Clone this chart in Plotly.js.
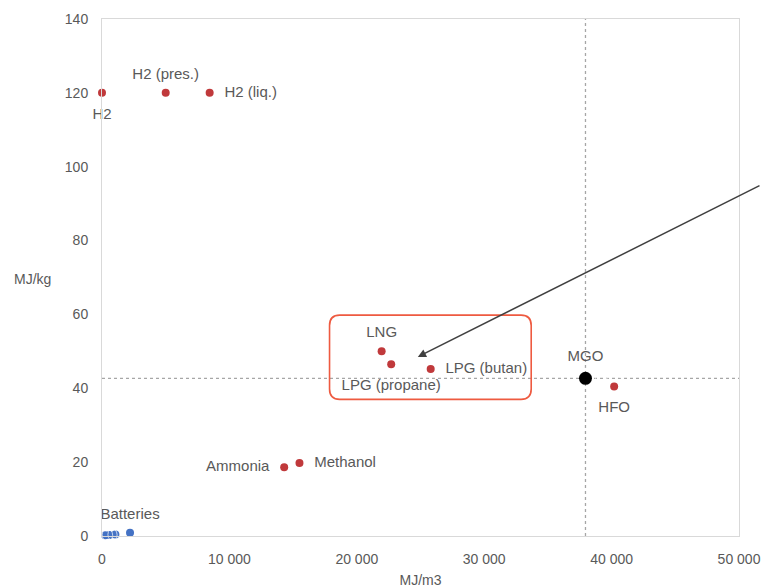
<!DOCTYPE html>
<html>
<head>
<meta charset="utf-8">
<script src="https://cdn.plot.ly/plotly-3.0.1.min.js"></script>
<style>html,body{margin:0;padding:0;background:#fff;}#chart{width:761px;height:588px;}</style>
</head>
<body>
<div id="chart"></div>
<script>
// Fuels (red)
const fuelNames = ["H2", "H2 (pres.)", "H2 (liq.)", "LNG", "LPG (propane)", "LPG (butan)", "HFO", "Ammonia", "Methanol"];
const fuelMJm3  = [0, 5000, 8450, 21950, 22700, 25800, 40200, 14300, 15500];
const fuelMJkg  = [120, 120, 120, 50, 46.5, 45.2, 40.5, 18.6, 19.8];
const fuelLabelPos = ["bottom center", "top center", "middle right", "top center", "bottom center", "middle right", "bottom center", "middle left", "middle right"];

// Batteries (blue)
const batteryNames = ["", "", "", "Batteries"];
const batteryMJm3 = [250, 600, 1050, 2200];
const batteryMJkg = [0.2, 0.3, 0.4, 0.9];

// Reference fuel (MGO)
const mgoName = ["MGO"];
const mgoMJm3 = [37950];
const mgoMJkg = [42.7];

// Axis ranges / ticks
const xRange = [0, 50000];
const yRange = [0, 140];
const xTicks = [0, 10000, 20000, 30000, 40000, 50000];
const yTicks = [0, 20, 40, 60, 80, 100, 120, 140];

const FONT = "Liberation Sans, Arial, sans-serif";
const TXT = "#595959";
const LBL = 15;

// invisible spacer marker sizes control label distance from points
function spacerFor(pos) { return pos.indexOf("top") === 0 ? 15 : 22; }

function labelTrace(xs, ys, names, pos) {
  const posArr = Array.isArray(pos) ? pos : xs.map(() => pos);
  return {
    x: xs, y: ys, text: names, mode: "markers+text", textposition: posArr, cliponaxis: false,
    marker: {color: "rgba(0,0,0,0)", size: posArr.map(spacerFor)}, hoverinfo: "skip",
    textfont: {family: FONT, size: LBL, color: TXT}, showlegend: false
  };
}

const mgoLabel = labelTrace(mgoMJm3, mgoMJkg, mgoName, "top center");
mgoLabel.marker.size = [20];

const traces = [
  { // dotted reference lines through MGO
    x: [mgoMJm3[0], mgoMJm3[0]], y: yRange, mode: "lines", hoverinfo: "skip",
    line: {color: "#a6a6a6", width: 1.3, dash: "dot"}, showlegend: false
  },
  {
    x: xRange, y: [mgoMJkg[0], mgoMJkg[0]], mode: "lines", hoverinfo: "skip",
    line: {color: "#a6a6a6", width: 1.3, dash: "dot"}, showlegend: false
  },
  {
    x: fuelMJm3, y: fuelMJkg, mode: "markers", cliponaxis: false,
    marker: {color: "#C0393B", size: 8}, showlegend: false
  },
  {
    x: batteryMJm3, y: batteryMJkg, mode: "markers", cliponaxis: false,
    marker: {color: "#4472C4", size: 8}, showlegend: false
  },
  {
    x: mgoMJm3, y: mgoMJkg, mode: "markers", cliponaxis: false,
    marker: {color: "#000000", size: 13}, showlegend: false
  },
  labelTrace(fuelMJm3, fuelMJkg, fuelNames, fuelLabelPos),
  labelTrace(batteryMJm3, batteryMJkg, batteryNames, "top center"),
  mgoLabel
];

// rounded rectangle around LNG / LPG group (data coords)
const rx0 = 17860, rx1 = 33690, ry0 = 37.0, ry1 = 59.8, cx = 800, cy = 2.8;
const rectPath = `M ${rx0+cx},${ry1} L ${rx1-cx},${ry1} Q ${rx1},${ry1} ${rx1},${ry1-cy} ` +
  `L ${rx1},${ry0+cy} Q ${rx1},${ry0} ${rx1-cx},${ry0} L ${rx0+cx},${ry0} ` +
  `Q ${rx0},${ry0} ${rx0},${ry0+cy} L ${rx0},${ry1-cy} Q ${rx0},${ry1} ${rx0+cx},${ry1} Z`;

const layout = {
  width: 761, height: 588,
  margin: {l: 102, r: 22, t: 19, b: 52},
  paper_bgcolor: "#fff", plot_bgcolor: "#fff",
  separators: ", ",
  font: {family: FONT, color: TXT, size: 14},
  showlegend: false,
  xaxis: {
    range: xRange, tickvals: xTicks, tickformat: ",d",
    showgrid: false, zeroline: false, showline: true, mirror: true,
    linecolor: "#d9d9d9", linewidth: 1, ticks: "outside", ticklen: 10, tickcolor: "rgba(0,0,0,0)",
    tickfont: {family: FONT, size: 14, color: TXT},
    title: {text: "MJ/m3", font: {family: FONT, size: 14, color: TXT}, standoff: 17}
  },
  yaxis: {
    range: yRange, tickvals: yTicks,
    showgrid: false, zeroline: false, showline: true, mirror: true,
    linecolor: "#d9d9d9", linewidth: 1, ticks: "outside", ticklen: 10, tickcolor: "rgba(0,0,0,0)",
    tickfont: {family: FONT, size: 14, color: TXT}
  },
  shapes: [
    {type: "path", path: rectPath, xref: "x", yref: "y",
     line: {color: "#EE5A40", width: 1.6}, fillcolor: "rgba(0,0,0,0)"}
  ],
  annotations: [
    {text: "MJ/kg", xref: "paper", yref: "paper", x: -0.141, y: 0.497,
     xanchor: "left", yanchor: "middle", showarrow: false,
     font: {family: FONT, size: 14, color: TXT}},
    {text: "", xref: "x", yref: "y", x: 24790, y: 48.5, ax: 360, ay: -172,
     showarrow: true, arrowhead: 2, arrowsize: 1.1, arrowwidth: 1.5, arrowcolor: "#404040",
     standoff: 0}
  ]
};

Plotly.newPlot("chart", traces, layout, {displayModeBar: false, staticPlot: true});
</script>
</body>
</html>
